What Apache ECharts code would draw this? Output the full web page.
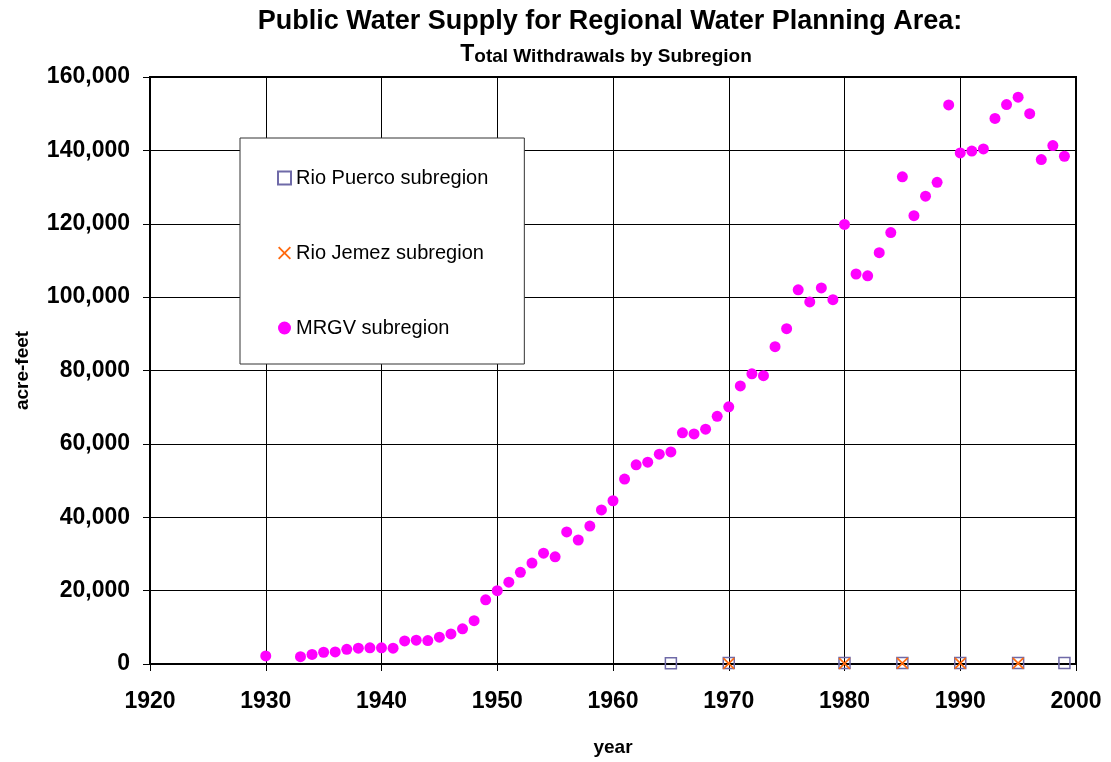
<!DOCTYPE html>
<html>
<head>
<meta charset="utf-8">
<title>Public Water Supply</title>
<script src="https://cdn.jsdelivr.net/npm/echarts@6/dist/echarts.min.js"></script>
<style>
  html, body { margin: 0; padding: 0; background: #fff; }
  #chart { width: 1111px; height: 762px; }
</style>
</head>
<body>
<div id="chart"></div>
<script>
// values
const mrgvYears = [1930, 1933, 1934, 1935, 1936, 1937, 1938, 1939, 1940, 1941,
  1942, 1943, 1944, 1945, 1946, 1947, 1948, 1949, 1950, 1951,
  1952, 1953, 1954, 1955, 1956, 1957, 1958, 1959, 1960, 1961,
  1962, 1963, 1964, 1965, 1966, 1967, 1968, 1969, 1970, 1971,
  1972, 1973, 1974, 1975, 1976, 1977, 1978, 1979, 1980, 1981,
  1982, 1983, 1984, 1985, 1986, 1987, 1988, 1989, 1990, 1991,
  1992, 1993, 1994, 1995, 1996, 1997, 1998, 1999]
const mrgvValues = [2200, 2000, 2600, 3200, 3300, 4000, 4300, 4400, 4400, 4300,
  6300, 6500, 6400, 7300, 8200, 9600, 11800, 17500, 20000, 22300,
  25000, 27500, 30200, 29200, 36000, 33800, 37600, 42000, 44500, 50400,
  54300, 55000, 57200, 57800, 63000, 62700, 64000, 67500, 70100, 75800,
  79100, 78600, 86500, 91400, 102000, 98700, 102500, 99300, 119800, 106300,
  105800, 112100, 117600, 132800, 122200, 127500, 131300, 152400, 139300, 139800,
  140400, 148700, 152500, 154500, 150000, 137500, 141300, 138400]

const puercoYears = [1965, 1970, 1980, 1985, 1990, 1995, 1999]
const puercoValues = [200, 250, 250, 300, 300, 300, 250]

const jemezYears = [1970, 1980, 1985, 1990, 1995]
const jemezValues = [150, 150, 200, 200, 200]

const seriesNames = ['Rio Puerco subregion', 'Rio Jemez subregion', 'MRGV subregion']

const pairs = (xs, ys) => xs.map((x, i) => [x, ys[i]])

const crossPath = 'path://M0,2L2,0L10,8L18,0L20,2L12,10L20,18L18,20L10,12L2,20L0,18L8,10Z'
const tickFont = { color: '#000', fontFamily: 'Liberation Sans', fontWeight: 'bold', fontSize: 23 }
const nameFont = { color: '#000', fontFamily: 'Liberation Sans', fontWeight: 'bold', fontSize: 19 }

const chart = echarts.init(document.getElementById('chart'))

chart.setOption({
  animation: false,
  backgroundColor: '#fff',
  graphic: [
    {
      type: 'text',
      x: 610,
      y: 22,
      style: {
        text: 'Public Water Supply for Regional Water Planning Area:',
        font: 'bold 27px "Liberation Sans"',
        fill: '#000',
        textAlign: 'center',
        align: 'center',
        textVerticalAlign: 'middle',
        verticalAlign: 'middle'
      }
    },
    {
      type: 'text',
      x: 606,
      y: 55,
      style: {
        text: '{a|T}{b|otal Withdrawals by Subregion}',
        fill: '#000',
        textAlign: 'center',
        align: 'center',
        textVerticalAlign: 'middle',
        verticalAlign: 'middle',
        rich: {
          a: { font: 'bold 23px "Liberation Sans"', fill: '#000', verticalAlign: 'bottom' },
          b: { font: 'bold 19px "Liberation Sans"', fill: '#000', verticalAlign: 'bottom' }
        }
      }
    }
  ],
  grid: {
    left: 150,
    right: 35,
    top: 77,
    bottom: 98,
    show: true,
    borderColor: '#000',
    borderWidth: 2,
    backgroundColor: '#fff',
    outerBoundsMode: 'none'
  },
  legend: {
    orient: 'vertical',
    left: 240,
    top: 138,
    padding: [30, 36, 26, 37],
    itemGap: 55,
    itemWidth: 13,
    itemHeight: 13,
    backgroundColor: '#fff',
    borderColor: '#333',
    borderWidth: 1,
    borderRadius: 0,
    textStyle: { color: '#000', fontFamily: 'Liberation Sans', fontSize: 20 },
    data: seriesNames
  },
  xAxis: {
    type: 'value',
    min: 1920,
    max: 2000,
    interval: 10,
    name: 'year',
    nameLocation: 'middle',
    nameGap: 74,
    nameTextStyle: nameFont,
    axisLine: { show: true, lineStyle: { color: '#000', width: 2 } },
    axisTick: { show: true, inside: false, length: 7, lineStyle: { color: '#000', width: 1 } },
    axisLabel: Object.assign({ margin: 26, formatter: v => String(v) }, tickFont),
    splitLine: { show: true, lineStyle: { color: '#000', width: 1 } }
  },
  yAxis: {
    type: 'value',
    min: 0,
    max: 160000,
    interval: 20000,
    name: 'acre-feet',
    nameLocation: 'middle',
    nameGap: 118,
    nameTextStyle: nameFont,
    axisLine: { show: true, lineStyle: { color: '#000', width: 2 } },
    axisTick: { show: true, inside: false, length: 7, lineStyle: { color: '#000', width: 1 } },
    axisLabel: Object.assign({
      margin: 20,
      formatter: v => v.toLocaleString('en-US')
    }, tickFont),
    splitLine: { show: true, lineStyle: { color: '#000', width: 1 } }
  },
  series: [
    {
      name: seriesNames[0],
      type: 'scatter',
      symbol: 'rect',
      symbolSize: 11,
      itemStyle: { color: 'rgba(255,255,255,0)', borderColor: '#6f6aa8', borderWidth: 1.5, opacity: 1 },
      data: pairs(puercoYears, puercoValues),
      z: 3
    },
    {
      name: seriesNames[1],
      type: 'scatter',
      symbol: crossPath,
      symbolSize: 12,
      itemStyle: { color: '#ff6a10', opacity: 1 },
      data: pairs(jemezYears, jemezValues),
      z: 4
    },
    {
      name: seriesNames[2],
      type: 'scatter',
      symbol: 'circle',
      symbolSize: 11,
      itemStyle: { color: '#ff00ff', opacity: 1 },
      data: pairs(mrgvYears, mrgvValues),
      z: 5
    }
  ]
})
</script>
</body>
</html>
